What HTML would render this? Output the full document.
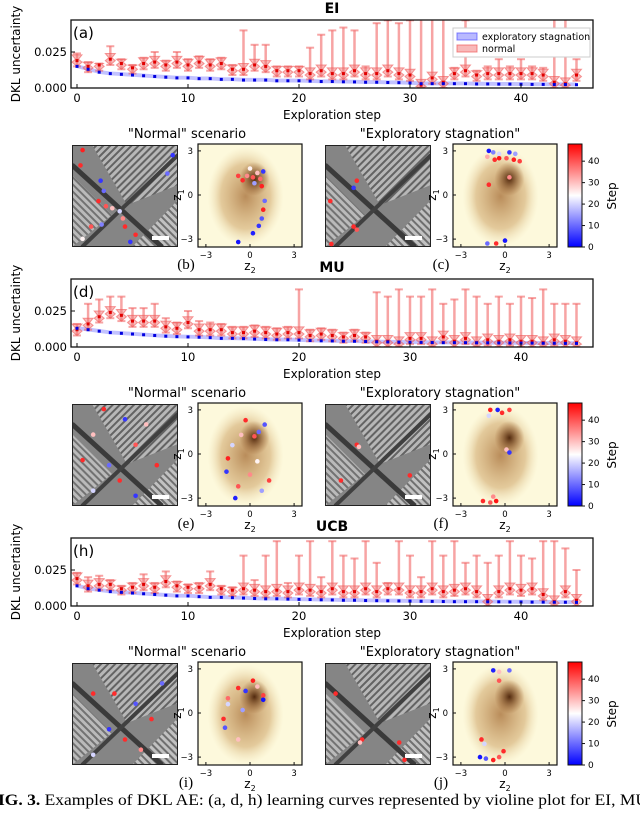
<!DOCTYPE html>
<html><head><meta charset="utf-8">
<style>
html,body{margin:0;padding:0;background:#fff;}
</style></head>
<body>
<svg id="fig" width="640" height="809" viewBox="0 0 640 809" xmlns="http://www.w3.org/2000/svg" font-family="DejaVu Sans, Liberation Sans, sans-serif">
<defs>
  <pattern id="stripeA" width="5" height="5" patternUnits="userSpaceOnUse" patternTransform="rotate(45)">
    <rect width="5" height="5" fill="#c4c4c4"/><rect width="2" height="5" fill="#5a5a5a"/>
  </pattern>
  <pattern id="stripeB" width="5" height="5" patternUnits="userSpaceOnUse" patternTransform="rotate(-45)">
    <rect width="5" height="5" fill="#d0d0d0"/><rect width="2" height="5" fill="#6a6a6a"/>
  </pattern>
  <radialGradient id="blob" cx="50%" cy="50%" r="50%">
    <stop offset="0" stop-color="#a8713a" stop-opacity="0.8"/>
    <stop offset="0.65" stop-color="#c99a5a" stop-opacity="0.5"/>
    <stop offset="1" stop-color="#e8d3a0" stop-opacity="0"/>
  </radialGradient>
  <radialGradient id="core" cx="50%" cy="50%" r="50%">
    <stop offset="0" stop-color="#4a2208" stop-opacity="0.95"/>
    <stop offset="1" stop-color="#8a4a18" stop-opacity="0"/>
  </radialGradient>
  <linearGradient id="cbar" x1="0" y1="1" x2="0" y2="0">
    <stop offset="0" stop-color="#0000ff"/>
    <stop offset="0.5" stop-color="#ffffff"/>
    <stop offset="1" stop-color="#ff0000"/>
  </linearGradient>
</defs>
</svg>
<script>
// ---------- data ----------
const steps = Array.from({length:46},(_,i)=>i);
const xTicks = [0,10,20,30,40];
const yTicks = [0.000,0.025];
const yTickLabels = ["0.000","0.025"];
const cbarTicks = [0,10,20,30,40];

const eiBlue = [0.015,0.013,0.011,0.010,0.0095,0.009,0.0085,0.008,0.0075,0.007,0.007,0.0065,0.0065,0.006,0.006,0.0055,0.0055,0.0055,0.005,0.005,0.005,0.0048,0.0045,0.0045,0.0043,0.0042,0.004,0.004,0.0038,0.0037,0.0035,0.003,0.003,0.003,0.003,0.003,0.0028,0.0028,0.0027,0.0027,0.0026,0.0025,0.0025,0.0024,0.0024,0.0023];
const eiRed  = [0.019,0.015,0.016,0.020,0.017,0.014,0.017,0.018,0.016,0.018,0.016,0.018,0.016,0.017,0.013,0.013,0.016,0.015,0.012,0.012,0.012,0.010,0.012,0.010,0.010,0.012,0.010,0.010,0.012,0.010,0.009,0.002,0.007,0.004,0.010,0.012,0.009,0.010,0.010,0.010,0.010,0.010,0.009,0.004,0.003,0.009];
const eiMax  = [0.024,0.018,0.017,0.029,0.020,0.016,0.021,0.025,0.019,0.025,0.020,0.022,0.020,0.021,0.016,0.040,0.030,0.030,0.015,0.015,0.015,0.028,0.037,0.040,0.042,0.040,0.015,0.045,0.047,0.045,0.047,0.060,0.060,0.050,0.014,0.047,0.012,0.015,0.020,0.015,0.020,0.015,0.014,0.060,0.060,0.020];

const muBlue = [0.013,0.012,0.011,0.010,0.0095,0.009,0.0085,0.008,0.0075,0.0072,0.007,0.0068,0.0065,0.006,0.006,0.0058,0.0055,0.0052,0.005,0.005,0.0048,0.0045,0.0043,0.0042,0.004,0.004,0.0038,0.0036,0.0035,0.0034,0.0033,0.0032,0.0031,0.003,0.003,0.003,0.0029,0.0029,0.0028,0.0028,0.0027,0.0027,0.0026,0.0026,0.0025,0.0025];
const muRed  = [0.012,0.016,0.021,0.024,0.022,0.018,0.018,0.018,0.014,0.013,0.017,0.012,0.012,0.012,0.010,0.010,0.011,0.010,0.009,0.010,0.010,0.008,0.009,0.008,0.007,0.008,0.007,0.004,0.004,0.003,0.006,0.006,0.003,0.007,0.004,0.006,0.003,0.005,0.004,0.005,0.004,0.004,0.003,0.005,0.004,0.003];
const muMax  = [0.016,0.030,0.033,0.035,0.035,0.027,0.027,0.030,0.020,0.017,0.025,0.018,0.017,0.016,0.014,0.014,0.015,0.014,0.013,0.014,0.040,0.012,0.013,0.012,0.010,0.012,0.010,0.038,0.035,0.040,0.035,0.035,0.040,0.030,0.033,0.040,0.035,0.030,0.035,0.030,0.035,0.034,0.040,0.030,0.030,0.030];

const ucbBlue = [0.014,0.012,0.011,0.010,0.0095,0.009,0.0085,0.008,0.0075,0.007,0.007,0.0065,0.006,0.006,0.0058,0.0055,0.0052,0.005,0.005,0.0048,0.0046,0.0045,0.0043,0.0042,0.004,0.004,0.0038,0.0037,0.0036,0.0035,0.0034,0.0033,0.0032,0.0031,0.003,0.003,0.003,0.0029,0.0029,0.0028,0.0028,0.0027,0.0027,0.0026,0.0026,0.0025];
const ucbRed  = [0.019,0.014,0.015,0.015,0.012,0.013,0.015,0.013,0.017,0.014,0.013,0.013,0.015,0.012,0.011,0.012,0.011,0.010,0.011,0.010,0.012,0.011,0.010,0.012,0.010,0.010,0.012,0.010,0.012,0.012,0.010,0.010,0.012,0.010,0.011,0.012,0.010,0.004,0.010,0.012,0.011,0.012,0.008,0.003,0.010,0.004];
const ucbMax  = [0.023,0.020,0.021,0.018,0.014,0.016,0.022,0.016,0.024,0.017,0.015,0.016,0.024,0.014,0.013,0.035,0.018,0.035,0.045,0.016,0.035,0.045,0.020,0.045,0.035,0.033,0.045,0.030,0.016,0.045,0.035,0.020,0.045,0.035,0.045,0.030,0.035,0.030,0.035,0.045,0.035,0.033,0.045,0.045,0.040,0.025];

// latent scatter points: [z2, z1, step]
const latB = [[0.2,1.2,40],[0.5,1.5,30],[-0.5,1.0,44],[0.9,1.6,5],[0.8,0.6,45],[1.0,-0.4,10],[0.9,-1.0,45],[0.8,-1.6,8],[0.6,-2.1,5],[-0.8,-3.2,2],[0.0,1.8,25],[-0.2,1.3,35],[0.3,0.8,15],[0.7,1.1,38],[-0.8,1.3,42],[0.2,-2.6,3]];
const latC = [[-1.1,3.0,2],[-0.8,2.9,12],[-0.4,2.8,20],[0.3,2.9,5],[0.7,2.8,15],[-1.2,2.6,32],[-0.7,2.4,44],[-0.4,2.5,46],[0.1,2.5,40],[0.6,2.4,45],[1.0,2.3,42],[-1.1,0.7,44],[0.3,1.2,35],[-1.2,-3.3,10],[-0.6,-3.3,44],[0.0,-3.1,2]];
const latF = [[-1.0,3.0,45],[-0.5,3.0,3],[-0.2,2.8,44],[0.3,3.0,42],[-1.1,2.6,20],[0.1,0.3,30],[0.3,0.1,5],[-1.5,-3.2,44],[-1.0,-3.3,40],[-0.6,-3.2,46],[-0.8,-2.9,35]];
const latE = [[0.3,1.2,40],[0.6,1.5,10],[-0.6,1.3,30],[-1.2,0.6,20],[-1.5,-0.3,45],[-1.6,-1.2,5],[-0.8,-2.2,40],[-1.0,-3.0,3],[0.8,-2.5,15],[1.3,-1.8,42],[0.5,-0.5,25],[-0.3,2.3,44],[1.0,2.0,8],[0.0,-1.4,35]];
const latI = [[-0.8,1.7,44],[-0.3,1.5,5],[0.5,1.8,30],[0.9,1.2,42],[-1.5,0.6,20],[-1.8,-0.4,44],[-1.7,-1.0,8],[-0.8,-1.8,30],[0.9,0.9,2],[-1.5,1.0,38],[0.2,2.2,45],[-0.5,0.2,15]];
const latJ = [[-0.8,2.9,3],[-0.4,2.8,30],[0.3,2.9,10],[-0.4,2.2,40],[-1.6,-1.8,44],[-1.4,-2.1,20],[-1.3,-3.1,8],[-0.8,-3.2,45],[-0.4,-3.0,40],[-0.1,-2.6,44],[-1.7,-3.0,2]];

// image scatter points: [x frac, y frac, step]
const imgB = [[0.1,0.05,45],[0.08,0.2,44],[0.27,0.35,5],[0.3,0.45,10],[0.25,0.55,44],[0.32,0.6,40],[0.38,0.62,30],[0.45,0.65,20],[0.48,0.72,35],[0.5,0.8,44],[0.28,0.78,12],[0.18,0.8,40],[0.1,0.92,25],[0.55,0.95,5],[0.6,0.88,44],[0.95,0.1,5],[0.9,0.28,10]];
const imgC = [[0.3,0.35,44],[0.27,0.42,5],[0.05,0.55,44],[0.27,0.8,44],[0.3,0.83,40],[0.06,0.97,44]];
const imgE = [[0.3,0.05,44],[0.5,0.15,5],[0.2,0.3,30],[0.6,0.4,40],[0.1,0.55,44],[0.35,0.6,10],[0.45,0.75,44],[0.2,0.85,20],[0.7,0.2,30],[0.8,0.6,44],[0.6,0.9,5]];
const imgF = [[0.3,0.4,44],[0.32,0.42,30],[0.15,0.75,44],[0.8,0.7,44]];
const imgI = [[0.2,0.3,44],[0.4,0.3,44],[0.6,0.4,8],[0.35,0.65,5],[0.5,0.75,44],[0.65,0.85,35],[0.2,0.9,20],[0.75,0.55,44],[0.85,0.2,10]];
const imgJ = [[0.1,0.3,44],[0.35,0.75,44],[0.33,0.78,30],[0.7,0.78,44],[0.75,0.95,44]];

// ---------- helpers ----------
const NS="http://www.w3.org/2000/svg";
const svg=document.getElementById('fig');
function mk(tag,attrs,parent,txt){const e=document.createElementNS(NS,tag);for(const k in attrs)e.setAttribute(k,attrs[k]);if(txt!==undefined)e.textContent=txt;(parent||svg).appendChild(e);return e;}
function stepColor(s){const t=Math.max(0,Math.min(1,s/48));
  if(t<0.5){const u=t/0.5;const c=Math.round(255*u);return `rgb(${c},${c},255)`;}
  const u=(t-0.5)/0.5;const c=Math.round(255*(1-u));return `rgb(255,${c},${c})`;}

const X0=71,X1=593;
function xs(s){return 77+s*11.1;}

function drawPanel(oy,title,letter,blue,red,mx,legend){
  const g=mk('g',{});
  
  
  const top=20+oy,bot=88+oy;
  function ys(v){return bot - v/0.025*36;}
  const t=mk('text',{x:332,y:13+oy,'text-anchor':'middle','font-size':14,'font-weight':'bold'},g,title);
  
  const clipId='clip'+oy;
  const cp=mk('clipPath',{id:clipId},g);mk('rect',{x:X0,y:top,width:X1-X0,height:bot-top},cp);
  const plot=mk('g',{'clip-path':`url(#${clipId})`},g);
  let up='',dn='';
  steps.forEach(i=>{up+=`${xs(i)},${ys(blue[i]+0.0015)} `;});
  for(let i=steps.length-1;i>=0;i--)dn+=`${xs(i)},${ys(Math.max(0,blue[i]-0.0012))} `;
  const band=mk('polygon',{points:up+dn,fill:'rgba(80,80,255,0.35)'},plot);
  
  steps.forEach(i=>{
    const cx=xs(i),m=red[i],hi=mx[i],lo=Math.max(0,m-0.004);
    const vg=mk('g',{},plot);
    
    const c='rgba(240,90,90,0.55)';
    mk('line',{x1:cx,y1:ys(lo),x2:cx,y2:ys(hi),stroke:c,'stroke-width':2.5},vg);
    mk('line',{x1:cx-4,y1:ys(hi),x2:cx+4,y2:ys(hi),stroke:c,'stroke-width':2},vg);
    mk('line',{x1:cx-4,y1:ys(lo),x2:cx+4,y2:ys(lo),stroke:c,'stroke-width':2},vg);
    const w=5,top2=Math.min(hi,m+0.004);
    mk('path',{d:`M${cx-w},${ys(top2)} L${cx+w},${ys(top2)} L${cx+1.5},${ys(m+0.001)} L${cx+w},${ys(m-0.001)} L${cx},${ys(lo)} L${cx-w},${ys(m-0.001)} L${cx-1.5},${ys(m+0.001)} Z`,fill:'rgba(240,110,110,0.45)',stroke:'rgba(240,90,90,0.6)','stroke-width':1},vg);
    mk('rect',{x:cx-1.5,y:ys(m)-1.5,width:3,height:3,fill:'#e00000'},vg);
    const bd=mk('rect',{x:cx-1.5,y:ys(blue[i])-1.5,width:3,height:3,fill:'#0000e0'},vg);
    
  });
  mk('rect',{x:X0,y:top,width:X1-X0,height:bot-top,fill:'none',stroke:'#111','stroke-width':1.3},g);
  yTicks.forEach((v,k)=>{const y=ys(v);
    mk('line',{x1:X0,y1:y,x2:X0+4,y2:y,stroke:'#111'},g);
    const tl=mk('text',{x:X0-4,y:y+4,'text-anchor':'end','font-size':11.5},g,yTickLabels[k]);
    });
  xTicks.forEach(v=>{const x=xs(v);
    mk('line',{x1:x,y1:bot,x2:x,y2:bot-4,stroke:'#111'},g);
    const tl=mk('text',{x:x,y:bot+14,'text-anchor':'middle','font-size':11.5},g,String(v));
    });
  const xl=mk('text',{x:332,y:bot+31,'text-anchor':'middle','font-size':12},g,'Exploration step');
  
  const yl=mk('text',{x:0,y:0,'text-anchor':'middle','font-size':12,transform:`translate(20,${bot-34}) rotate(-90)`},g,'DKL uncertainty');
  
  const lt=mk('text',{x:73,y:top+18,'font-size':15},g,letter);
  
  if(legend){
    const lg=mk('g',{},g);
    mk('rect',{x:453,y:top+8,width:137,height:29,fill:'#fff',stroke:'#ccc'},lg);
    mk('rect',{x:457,y:top+13,width:20,height:7,fill:'rgba(80,80,255,0.4)',stroke:'rgba(80,80,255,0.7)'},lg);
    mk('text',{x:482,y:top+20,'font-size':9.5},lg,'exploratory stagnation');
    mk('rect',{x:457,y:top+25,width:20,height:7,fill:'rgba(240,100,100,0.45)',stroke:'rgba(240,90,90,0.7)'},lg);
    mk('text',{x:482,y:top+32,'font-size':9.5},lg,'normal');
  }
}

function drawImage(x,y,pts,name){
  const g=mk('g',{});
  const id='ic'+name;const cp=mk('clipPath',{id:id},g);mk('rect',{x:x,y:y,width:106,height:102},cp);
  const ig=mk('g',{'clip-path':`url(#${id})`},g);
  mk('rect',{x:x,y:y,width:106,height:102,fill:'#858585'},ig);
  mk('polygon',{points:`${x+20},${y} ${x+106},${y} ${x+106},${y+40} ${x+55},${y+60}`,fill:'url(#stripeA)',opacity:0.8},ig);
  mk('polygon',{points:`${x},${y+30} ${x+40},${y+70} ${x},${y+102}`,fill:'url(#stripeB)',opacity:0.7},ig);
  mk('polygon',{points:`${x+60},${y+102} ${x+106},${y+55} ${x+106},${y+102}`,fill:'url(#stripeB)',opacity:0.8},ig);
  mk('line',{x1:x,y1:y+20,x2:x+90,y2:y+102,stroke:'#3a3a3a','stroke-width':5},ig);
  mk('line',{x1:x+106,y1:y+10,x2:x+10,y2:y+102,stroke:'#404040','stroke-width':4},ig);
  mk('rect',{x:x+0.5,y:y+0.5,width:105,height:101,fill:'none',stroke:'#222'},g);
  mk('rect',{x:x+80,y:y+91,width:17,height:4,fill:'#fff'},g);
  pts.forEach(p=>{const c=mk('circle',{cx:x+p[0]*106,cy:y+p[1]*102,r:2.3,fill:stepColor(p[2])},g);
    });
}

function drawLatent(x,y,pts,name,label){
  const g=mk('g',{});
  const W=104,H=103;
  const zx=v=>x+52+v*14.7, zy=v=>y+51-v*14.7;
  mk('rect',{x:x,y:y,width:W,height:H,fill:'#fdf9dc'},g);
  mk('ellipse',{cx:zx(-0.3),cy:zy(-0.1),rx:38,ry:50,fill:'url(#blob)'},g);
  mk('ellipse',{cx:zx(0.3),cy:zy(1.1),rx:15,ry:17,fill:'url(#core)'},g);
  pts.forEach(p=>{const c=mk('circle',{cx:zx(p[0]),cy:zy(p[1]),r:2.3,fill:stepColor(p[2])},g);
    });
  mk('rect',{x:x,y:y,width:W,height:H,fill:'none',stroke:'#111','stroke-width':1.2},g);
  [-3,0,3].forEach(v=>{
    mk('line',{x1:x,y1:zy(v),x2:x+3,y2:zy(v),stroke:'#111'},g);
    mk('text',{x:x-5,y:zy(v)+3,'text-anchor':'end','font-size':8.5},g,v<0?'\u22123':String(v));
    mk('line',{x1:zx(v),y1:y+H,x2:zx(v),y2:y+H-3,stroke:'#111'},g);
    mk('text',{x:zx(v),y:y+H+11,'text-anchor':'middle','font-size':8.5},g,v<0?'\u22123':String(v));
  });
  const z1=mk('text',{x:0,y:0,'font-size':12,'text-anchor':'middle',transform:`translate(${x-17},${y+51}) rotate(-90)`},g,'z');
  mk('tspan',{'font-size':8,dy:3},z1,'1');
  const z2=mk('text',{x:x+52,y:y+H+23,'font-size':12,'text-anchor':'middle'},g,'z');
  mk('tspan',{'font-size':8,dy:3},z2,'2');
  const l=mk('text',{x:x-12,y:y+H+22,'font-size':15,'text-anchor':'middle','font-family':'Liberation Serif, serif'},g,label);
  
}

function drawColorbar(y){
  const g=mk('g',{});
  const x=568,H=103;
  mk('rect',{x:x,y:y,width:14,height:H,fill:'url(#cbar)',stroke:'#111'},g);
  cbarTicks.forEach(v=>{const yy=y+H-v/48*H;
    mk('line',{x1:x+14,y1:yy,x2:x+17,y2:yy,stroke:'#111'},g);
    mk('text',{x:x+20,y:yy+3,'font-size':9},g,String(v));});
  mk('text',{x:0,y:0,'font-size':12,'text-anchor':'middle',transform:`translate(${x+48},${y+52}) rotate(-90)`},g,'Step');
}

function drawRow(oy,imgs,lats,labels){
  const t1=mk('text',{x:187,y:138+oy,'font-size':13,'text-anchor':'middle'},svg,'"Normal" scenario');
  
  const t2=mk('text',{x:440,y:138+oy,'font-size':13,'text-anchor':'middle'},svg,'"Exploratory stagnation"');
  
  drawImage(72,145+oy,imgs[0],'image-normal-'+oy);
  drawLatent(198,144+oy,lats[0],'latent-normal-'+oy,labels[0]);
  drawImage(325,145+oy,imgs[1],'image-stagnation-'+oy);
  drawLatent(453,144+oy,lats[1],'latent-stagnation-'+oy,labels[1]);
  drawColorbar(144+oy);
}

drawPanel(0,'EI','(a)',eiBlue,eiRed,eiMax,true);
drawRow(0,[imgB,imgC],[latB,latC],['(b)','(c)']);
drawPanel(259,'MU','(d)',muBlue,muRed,muMax,false);
drawRow(259,[imgE,imgF],[latE,latF],['(e)','(f)']);
drawPanel(518,'UCB','(h)',ucbBlue,ucbRed,ucbMax,false);
drawRow(518,[imgI,imgJ],[latI,latJ],['(i)','(j)']);

const cap=mk('text',{x:-2,y:805,'font-size':16,'font-family':'Liberation Serif, serif',textLength:650,lengthAdjust:'spacingAndGlyphs'},svg);

mk('tspan',{'font-weight':'bold'},cap,'IG. 3.');
mk('tspan',{},cap,' Examples of DKL AE: (a, d, h) learning curves represented by violine plot for EI, MU');
</script>
</body></html>
